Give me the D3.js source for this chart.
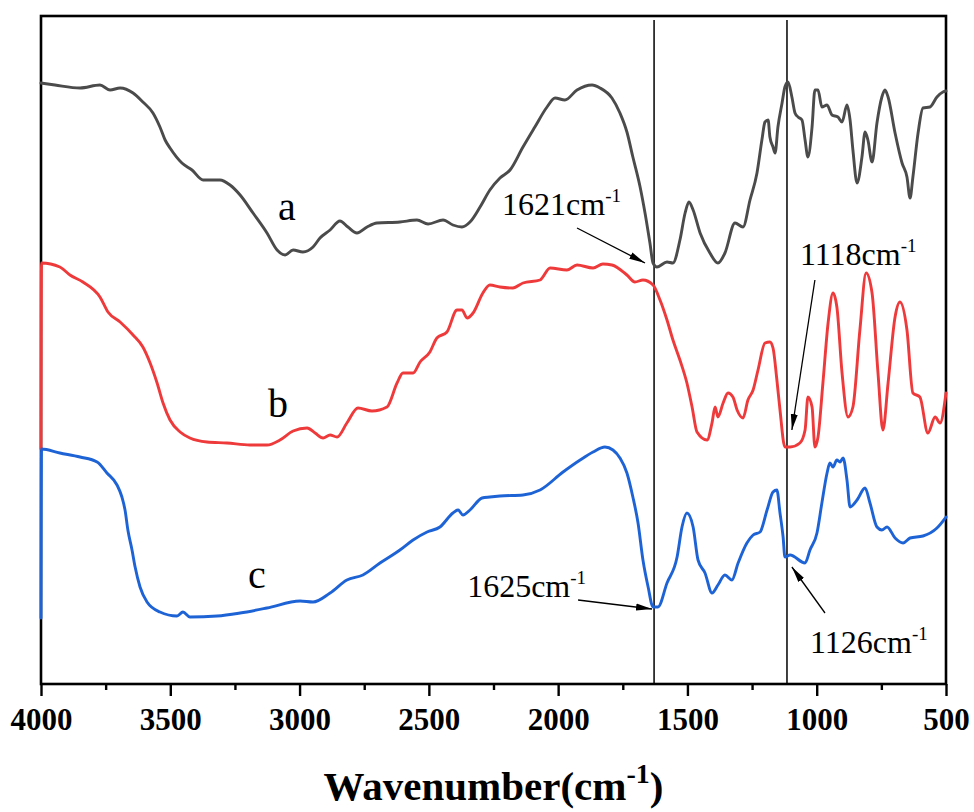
<!DOCTYPE html>
<html lang="en">
<head>
<meta charset="UTF-8">
<title>FTIR spectra</title>
<script src="https://cdn.jsdelivr.net/npm/d3@7/dist/d3.min.js"></script>
<style>
    body { margin: 0; background: #fff; }
    #chart { width: 974px; height: 812px; }
    .curve { fill: none; stroke-width: 2.9px; stroke-linejoin: round; stroke-linecap: round; }
    .serif { font-family: "Liberation Serif", "Times New Roman", serif; fill: #000; }
    .xaxis .tick text { font-family: "Liberation Serif", "Times New Roman", serif; font-weight: bold; font-size: 31px; fill: #000; }
    .xaxis .tick line { stroke: #000; stroke-width: 2.4px; }
    .xaxis .domain { display: none; }
    .vline { stroke: #000; stroke-width: 1.5px; }
    .arrow { stroke: #000; stroke-width: 1.3px; }
</style>
</head>
<body>
<div id="chart"></div>
<script>
// wavenumber (cm-1), transmittance (a.u.)
const seriesA = [
    [4000, 60.1], [3946, 59.9], [3849, 59.6], [3772, 59.9], [3733, 59.4], [3694, 59.6], [3644, 59.1],
    [3606, 58.2], [3567, 57.1], [3540, 55.7], [3520, 54.4], [3501, 53.6], [3455, 52.1], [3416, 51.4],
    [3373, 50.4], [3308, 50.4], [3269, 49.9], [3230, 48.9], [3180, 47.1], [3126, 45.1], [3087, 43.4],
    [3056, 42.9], [3025, 43.4], [2987, 43.2], [2948, 43.7], [2921, 44.6], [2882, 45.4], [2844, 46.3],
    [2813, 45.7], [2778, 45.1], [2739, 45.7], [2701, 46.1], [2612, 46.2], [2546, 46.4], [2503, 46.0],
    [2445, 46.4], [2407, 45.9], [2372, 45.7], [2341, 46.2], [2302, 47.7], [2264, 49.4], [2225, 50.6],
    [2186, 51.4], [2136, 53.7], [2090, 55.7], [2043, 57.7], [2012, 58.6], [1974, 58.4], [1927, 59.4],
    [1869, 59.9], [1838, 59.6], [1792, 58.6], [1761, 57.1], [1734, 55.2], [1711, 52.7], [1683, 49.7],
    [1664, 47.1], [1645, 44.1], [1633, 42.1], [1618, 41.7], [1579, 42.2], [1556, 42.1], [1529, 44.4],
    [1509, 47.1], [1494, 48.2], [1478, 47.4], [1451, 45.1], [1413, 43.1], [1382, 42.1], [1355, 43.1],
    [1316, 46.1], [1285, 45.7], [1258, 48.4], [1231, 51.1], [1212, 54.4], [1200, 56.2], [1188, 56.4],
    [1181, 54.7], [1169, 53.7], [1161, 53.1], [1150, 55.7], [1134, 58.1], [1123, 59.7], [1111, 60.2],
    [1096, 58.7], [1084, 57.1], [1072, 56.7], [1057, 56.4], [1045, 54.4], [1034, 52.7], [1018, 55.7],
    [1007, 59.4], [995, 59.4], [980, 57.7], [960, 57.9], [941, 56.9], [918, 56.7], [902, 56.2],
    [883, 57.9], [871, 56.4], [860, 53.4], [844, 50.1], [825, 52.7], [813, 55.2], [802, 54.4],
    [786, 52.2], [767, 56.1], [748, 58.7], [736, 59.4], [724, 58.7], [697, 55.1], [670, 52.1],
    [651, 50.7], [639, 48.6], [628, 50.7], [608, 55.1], [589, 57.6], [562, 57.7], [535, 58.7],
    [512, 59.2], [500, 59.3]
];

const seriesB = [
    [4000, 23.5], [3998, 42.1], [3927, 41.7], [3888, 40.9], [3838, 40.2], [3772, 38.7], [3741, 37.2],
    [3694, 36.2], [3644, 34.9], [3606, 33.7], [3578, 32.1], [3551, 30.1], [3528, 28.1], [3501, 26.4],
    [3462, 25.2], [3424, 24.6], [3358, 24.2], [3281, 24.1], [3192, 23.9], [3126, 23.9], [3076, 24.4],
    [3025, 25.3], [2971, 25.6], [2940, 25.1], [2909, 24.6], [2882, 24.9], [2855, 24.7], [2817, 26.1],
    [2774, 27.6], [2720, 27.3], [2662, 27.7], [2623, 30.1], [2600, 31.1], [2561, 31.1], [2534, 32.2],
    [2496, 33.2], [2469, 34.6], [2430, 35.2], [2391, 37.4], [2372, 37.4], [2352, 36.6], [2329, 37.1],
    [2291, 39.1], [2264, 39.9], [2225, 39.7], [2175, 39.6], [2136, 40.1], [2070, 40.4], [2031, 41.6],
    [1966, 41.4], [1927, 41.9], [1865, 41.6], [1827, 42.0], [1792, 41.9], [1734, 40.9], [1703, 40.2],
    [1672, 40.4], [1633, 39.9], [1606, 38.4], [1579, 36.4], [1556, 34.4], [1529, 32.4], [1502, 30.1],
    [1482, 27.7], [1463, 25.2], [1424, 24.4], [1405, 26.1], [1393, 27.7], [1382, 26.7], [1362, 28.1],
    [1343, 29.1], [1324, 28.7], [1308, 27.4], [1285, 26.6], [1266, 28.4], [1246, 29.4], [1227, 31.4],
    [1200, 34.1], [1181, 34.2], [1169, 33.6], [1154, 30.4], [1142, 27.4], [1123, 23.7], [1103, 23.7],
    [1065, 24.1], [1045, 25.4], [1034, 28.7], [1018, 27.7], [1007, 23.7], [995, 24.7], [976, 30.1],
    [956, 36.1], [937, 39.1], [922, 37.7], [902, 31.1], [879, 26.7], [860, 27.7], [833, 35.4],
    [809, 41.1], [786, 39.1], [763, 31.1], [744, 25.4], [724, 30.1], [697, 36.7], [678, 38.2],
    [651, 35.4], [628, 29.1], [601, 28.7], [570, 25.1], [542, 26.7], [523, 26.1], [500, 29.1]
];

const seriesC = [
    [4000, 6.6], [3998, 23.5], [3927, 23.1], [3849, 22.7], [3783, 22.2], [3745, 21.1], [3706, 19.9],
    [3687, 18.7], [3675, 17.4], [3664, 15.4], [3648, 13.4], [3636, 11.7], [3617, 9.7], [3590, 8.2],
    [3540, 7.2], [3474, 6.8], [3451, 7.2], [3424, 6.7], [3319, 6.8], [3230, 7.1], [3126, 7.6],
    [2998, 8.3], [2948, 8.2], [2882, 9.1], [2817, 10.4], [2755, 10.9], [2689, 12.1], [2612, 13.4],
    [2561, 14.4], [2507, 15.2], [2457, 15.7], [2407, 17.1], [2387, 17.4], [2368, 16.9], [2341, 17.4],
    [2294, 18.6], [2264, 18.7], [2225, 18.8], [2136, 18.9], [2070, 19.4], [1981, 21.2], [1915, 22.4],
    [1865, 23.2], [1819, 23.7], [1788, 23.4], [1761, 22.6], [1734, 21.1], [1711, 18.7], [1691, 16.1],
    [1672, 12.4], [1652, 9.7], [1633, 7.7], [1614, 7.7], [1579, 10.1], [1540, 12.7], [1521, 15.7],
    [1502, 17.1], [1478, 15.7], [1459, 12.4], [1432, 11.1], [1405, 9.1], [1382, 9.9], [1355, 10.9],
    [1328, 10.4], [1304, 12.1], [1270, 14.1], [1246, 14.9], [1219, 15.2], [1192, 17.4], [1169, 19.2],
    [1154, 19.4], [1142, 17.1], [1130, 14.7], [1123, 12.7], [1103, 12.9], [1045, 12.1], [1026, 13.4],
    [999, 15.1], [980, 18.1], [960, 21.1], [949, 22.1], [937, 21.7], [922, 22.4], [910, 22.2],
    [898, 22.6], [883, 20.4], [871, 17.7], [844, 18.4], [813, 19.6], [794, 18.1], [767, 15.7],
    [748, 15.4], [728, 15.7], [697, 14.6], [666, 14.1], [639, 14.6], [589, 14.8], [535, 15.6],
    [500, 16.7]
];

const seriesNames = ["a", "b", "c"];
const seriesColors = ["#4b4b4b", "#ee3a3a", "#1e63d6"];
// where the a/b/c letters sit (wavenumber, value)
const seriesLabelAt = [[3049, 46.4], [3083, 26.7], [3165, 9.6]];

const majorTicks = [4000, 3500, 3000, 2500, 2000, 1500, 1000, 500];
const minorTicks = [3750, 3250, 2750, 2250, 1750, 1250, 750];
const markerLines = [1629, 1115];

// peak annotations: label, text start, arrow tail, arrow tip
const peakLabels = ["1621cm", "1118cm", "1625cm", "1126cm"];
const peakTextAt = [[2217, 46.9], [1065, 41.9], [2352, 8.7], [1026, 3.1]];
const peakArrowFrom = [[1927, 45.6], [1007, 40.4], [1923, 8.4], [968, 7.1]];
const peakArrowTo = [[1664, 42.1], [1096, 25.4], [1637, 7.5], [1096, 11.7]];

let draw = () => {
    let svg = d3.select("#chart").append("svg")
        .attr("class", "chart")
        .attr("width", 974)
        .attr("height", 812);

    let padding = { top: 16, left: 41, bottom: 128, right: 28 };
    let width = +svg.attr("width") - padding.left - padding.right;
    let height = +svg.attr("height") - padding.top - padding.bottom;

    let focus = svg.append("g")
        .attr("transform", "translate(" + padding.left + "," + padding.top + ")");

    // arrow head
    svg.append("defs").append("marker")
        .attr("id", "head")
        .attr("viewBox", "0 0 16 10")
        .attr("refX", 16).attr("refY", 5)
        .attr("markerUnits", "userSpaceOnUse")
        .attr("markerWidth", 16).attr("markerHeight", 10)
        .attr("orient", "auto")
        .append("path")
        .attr("d", "M0,1.5 L16,5 L0,8.5 Z")
        .attr("fill", "#000");

    let x = d3.scaleLinear().domain([4000, 500]).range([0, width]);
    let y = d3.scaleLinear().domain([0, 66.8]).range([height, 0]);

    // vertical marker lines
    focus.selectAll(".vline")
        .data(markerLines)
        .enter().append("line")
        .attr("class", "vline")
        .attr("x1", d => x(d)).attr("x2", d => x(d))
        .attr("y1", y(0)).attr("y2", y(66.4));

    // x axis: minor then major ticks
    focus.append("g")
        .attr("class", "xaxis")
        .attr("transform", "translate(0," + height + ")")
        .call(d3.axisBottom(x).tickValues(minorTicks).tickSize(6).tickFormat(""));
    focus.append("g")
        .attr("class", "xaxis")
        .attr("transform", "translate(0," + height + ")")
        .call(d3.axisBottom(x).tickValues(majorTicks).tickSize(12).tickPadding(12).tickFormat(d3.format("d")));

    // frame
    focus.append("rect")
        .attr("width", width)
        .attr("height", height)
        .attr("fill", "none")
        .attr("stroke", "#000")
        .attr("stroke-width", 2.6);

    let line = d3.line().curve(d3.curveMonotoneX)
        .x(d => x(d[0]))
        .y(d => y(d[1]));

    [seriesA, seriesB, seriesC].forEach((s, i) => {
        focus.append("path")
            .datum(s)
            .attr("class", "curve")
            .attr("stroke", seriesColors[i])
            .attr("d", line);
    });

    focus.selectAll(".slabel")
        .data(seriesNames)
        .enter().append("text")
        .attr("class", "serif slabel")
        .attr("x", (d, i) => x(seriesLabelAt[i][0]))
        .attr("y", (d, i) => y(seriesLabelAt[i][1]))
        .attr("text-anchor", "middle")
        .style("font-size", "40px")
        .text(d => d);

    // peak annotations
    peakLabels.forEach((lab, i) => {
        let t = focus.append("text")
            .attr("class", "serif")
            .attr("x", x(peakTextAt[i][0]))
            .attr("y", y(peakTextAt[i][1]))
            .style("font-size", "32px")
            .text(lab);
        t.append("tspan")
            .attr("dy", -13)
            .style("font-size", "19px")
            .text("-1");

        focus.append("line")
            .attr("class", "arrow")
            .attr("x1", x(peakArrowFrom[i][0])).attr("y1", y(peakArrowFrom[i][1]))
            .attr("x2", x(peakArrowTo[i][0])).attr("y2", y(peakArrowTo[i][1]))
            .attr("marker-end", "url(#head)");
    });

    // axis title
    let title = svg.append("text")
        .attr("class", "serif")
        .attr("x", padding.left + width / 2)
        .attr("y", 800)
        .attr("text-anchor", "middle")
        .style("font-size", "41px")
        .style("font-weight", "bold")
        .text("Wavenumber(cm");
    title.append("tspan")
        .attr("dy", -17)
        .style("font-size", "28px")
        .text("-1");
    title.append("tspan")
        .attr("dy", 17)
        .text(")");
}

draw();
</script>
</body>
</html>
